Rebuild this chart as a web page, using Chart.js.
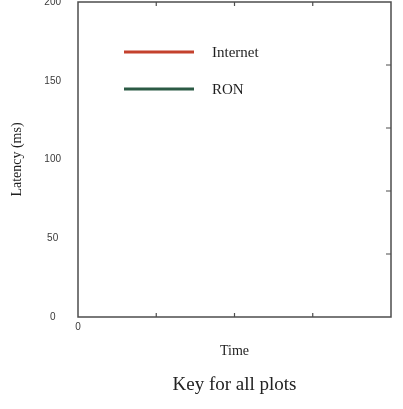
<!DOCTYPE html>
<html>
<head>
<meta charset="utf-8">
<script src="https://cdn.jsdelivr.net/npm/chart.js@4.4.1/dist/chart.umd.min.js"></script>
<style>
  html, body { margin: 0; padding: 0; background: #fff; }
  #wrap { width: 403px; height: 409px; }
</style>
</head>
<body>
<div id="wrap"><canvas id="chart" width="403" height="409"></canvas></div>
<script>
// Series names (the plot is just the key, there's no data in it)
const seriesNames = ['Internet', 'RON'];
const internetLatency = [];
const ronLatency = [];

// Axis ticks
const yTicks = [0, 50, 100, 150, 200];
const xTicks = [0, 1, 2, 3, 4];
const xTickLabels = ['0', '', '', '', ''];
const rightTicks = [40, 80, 120, 160];

const lineColors = ['#c4412d', '#2b5a44'];
const frameColor = '#4d4d4d';

// Draws the box, the small inward ticks and the key inside the plot
const framePlugin = {
  id: 'frameAndKey',
  afterDatasetsDraw(chart) {
    const ctx = chart.ctx;
    const area = chart.chartArea;
    const xs = chart.scales.x;
    const ys = chart.scales.y;
    ctx.save();
    ctx.strokeStyle = frameColor;
    ctx.lineWidth = 1.5;
    ctx.strokeRect(area.left, area.top, area.right - area.left, area.bottom - area.top);

    ctx.lineWidth = 1.2;
    ctx.beginPath();
    xTicks.slice(1, -1).forEach(function(v) {
      const px = xs.getPixelForValue(v);
      ctx.moveTo(px, area.bottom); ctx.lineTo(px, area.bottom - 4);
      ctx.moveTo(px, area.top); ctx.lineTo(px, area.top + 4);
    });
    rightTicks.forEach(function(v) {
      const py = ys.getPixelForValue(v);
      ctx.moveTo(area.right, py); ctx.lineTo(area.right - 5, py);
    });
    ctx.stroke();

    // key
    chart.data.datasets.forEach(function(ds, i) {
      const y = area.top + 50 + i * 37;
      ctx.strokeStyle = ds.borderColor;
      ctx.lineWidth = 3;
      ctx.beginPath();
      ctx.moveTo(area.left + 46, y);
      ctx.lineTo(area.left + 116, y);
      ctx.stroke();
      ctx.fillStyle = '#1e1e1e';
      ctx.font = '15px "Liberation Serif", "DejaVu Serif", serif';
      ctx.textBaseline = 'middle';
      ctx.textAlign = 'left';
      ctx.fillText(ds.label, area.left + 134, y + 1);
    });
    ctx.restore();
  }
};

new Chart(document.getElementById('chart'), {
  type: 'line',
  data: {
    datasets: [
      { label: seriesNames[0], data: internetLatency, borderColor: lineColors[0], borderWidth: 3, pointRadius: 0 },
      { label: seriesNames[1], data: ronLatency, borderColor: lineColors[1], borderWidth: 3, pointRadius: 0 }
    ]
  },
  options: {
    responsive: false,
    animation: false,
    layout: { padding: { top: 1, right: 12, left: 0, bottom: 0 } },
    plugins: {
      legend: { display: false },
      tooltip: { enabled: false },
      title: {
        display: true,
        text: 'Key for all plots',
        position: 'bottom',
        fullSize: false,
        color: '#222',
        font: { family: '"Liberation Serif", "DejaVu Serif", serif', size: 19, weight: 'normal' },
        padding: { top: 0, bottom: 12.6 }
      }
    },
    scales: {
      x: {
        type: 'linear',
        min: 0,
        max: 4,
        grid: { display: true, drawOnChartArea: false, drawTicks: false },
        border: { display: false },
        afterBuildTicks: function(scale) { scale.ticks = xTicks.map(function(v) { return { value: v }; }); },
        afterFit: function(scale) { scale.height = 56.6; },
        ticks: {
          padding: 4,
          maxRotation: 0,
          autoSkip: false,
          color: '#3a3a3a',
          font: { family: '"Liberation Sans", Arial, sans-serif', size: 10 },
          callback: function(value, index) { return xTickLabels[index]; }
        },
        title: {
          display: true,
          text: 'Time',
          color: '#1e1e1e',
          font: { family: '"Liberation Serif", "DejaVu Serif", serif', size: 14 },
          padding: { top: 0, bottom: 14 }
        }
      },
      y: {
        min: 0,
        max: 200,
        // invisible tick marks just push the labels away from the axis
        grid: { display: true, drawOnChartArea: false, drawTicks: true, tickLength: 17, color: 'rgba(0,0,0,0)' },
        border: { display: false },
        afterBuildTicks: function(scale) { scale.ticks = yTicks.map(function(v) { return { value: v }; }); },
        afterFit: function(scale) { scale.width = 78; },
        ticks: {
          padding: 0,
          crossAlign: 'center',
          color: '#3a3a3a',
          font: { family: '"Liberation Sans", Arial, sans-serif', size: 10, lineHeight: 0.4 }
        },
        title: {
          display: true,
          text: 'Latency (ms)',
          color: '#1e1e1e',
          font: { family: '"Liberation Serif", "DejaVu Serif", serif', size: 14 },
          padding: { top: 9, bottom: 0 }
        }
      }
    }
  },
  plugins: [framePlugin]
});
</script>
</body>
</html>
